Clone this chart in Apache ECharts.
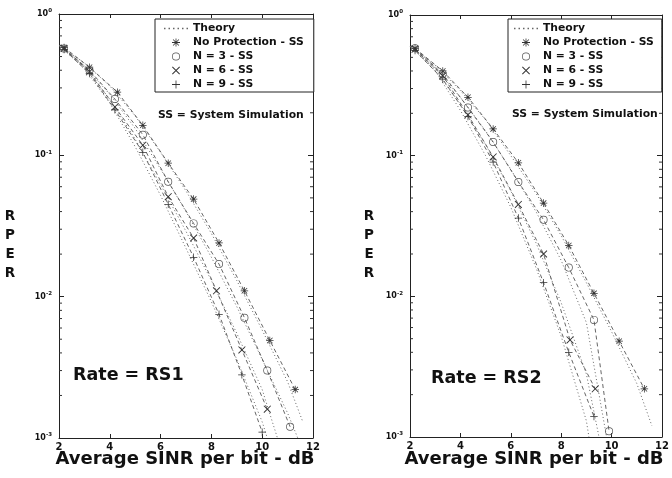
<!DOCTYPE html>
<html><head><meta charset="utf-8">
<script src="https://cdn.jsdelivr.net/npm/echarts@6/dist/echarts.min.js"></script>
<style>html,body{margin:0;padding:0;background:#fff}#c{width:672px;height:478px}</style>
</head><body><div id="c"></div>
<script>
// ---------- axes / ticks ----------
const xMin = 2, xMax = 12, xStep = 2;
const yMin = 0.001, yMax = 1;
const minorTicks = [0.002,0.003,0.004,0.005,0.006,0.007,0.008,0.009,
                    0.02,0.03,0.04,0.05,0.06,0.07,0.08,0.09,
                    0.2,0.3,0.4,0.5,0.6,0.7,0.8,0.9];
const seriesNames = ['Theory','No Protection - SS','N = 3 - SS','N = 6 - SS','N = 9 - SS'];

// ---------- Rate = RS1 (left panel) ----------
const rs1_thNP_x = [2,3,4,5,6,7,8,9,10,11,11.6];
const rs1_thNP_y = [0.6,0.45,0.31,0.19,0.105,0.056,0.028,0.013,0.0058,0.0025,0.0013];
const rs1_thN3_x = [2,3,4,5,6,7,8,9,10,11,11.4];
const rs1_thN3_y = [0.6,0.43,0.27,0.155,0.08,0.04,0.019,0.0085,0.0036,0.0015,0.001];
const rs1_thN6_x = [2,3,4,5,6,7,8,9,10,10.6];
const rs1_thN6_y = [0.6,0.42,0.25,0.13,0.062,0.029,0.013,0.0055,0.0022,0.001];
const rs1_thN9_x = [2,3,4,5,6,7,8,9,10,10.2];
const rs1_thN9_y = [0.6,0.41,0.235,0.115,0.052,0.022,0.0092,0.0036,0.0013,0.001];

const rs1_NP_x = [2.2,3.2,4.3,5.3,6.3,7.3,8.3,9.3,10.3,11.3];
const rs1_NP_y = [0.58,0.42,0.28,0.163,0.088,0.049,0.024,0.011,0.0049,0.0022];
const rs1_N3_x = [2.2,3.2,4.2,5.3,6.3,7.3,8.3,9.3,10.2,11.1];
const rs1_N3_y = [0.57,0.40,0.25,0.14,0.065,0.033,0.017,0.0071,0.003,0.0012];
const rs1_N6_x = [2.2,3.2,4.2,5.3,6.3,7.3,8.2,9.2,10.2];
const rs1_N6_y = [0.57,0.39,0.22,0.118,0.051,0.026,0.011,0.0042,0.0016];
const rs1_N9_x = [2.2,3.2,4.2,5.3,6.3,7.3,8.3,9.2,10.0];
const rs1_N9_y = [0.56,0.38,0.21,0.105,0.045,0.019,0.0075,0.0028,0.0011];

// ---------- Rate = RS2 (right panel) ----------
const rs2_thNP_x = [2,3,4,5,6,7,8,9,10,11,11.6];
const rs2_thNP_y = [0.6,0.44,0.29,0.18,0.1,0.054,0.027,0.0125,0.0056,0.0024,0.0012];
const rs2_thN3_x = [2,3,4,5,6,7,8,9,9.8];
const rs2_thN3_y = [0.6,0.42,0.26,0.15,0.08,0.04,0.018,0.0065,0.001];
const rs2_thN6_x = [2,3,4,5,6,7,8,9,9.5];
const rs2_thN6_y = [0.6,0.41,0.23,0.12,0.056,0.024,0.009,0.0028,0.001];
const rs2_thN9_x = [2,3,4,5,6,7,8,9,9.1];
const rs2_thN9_y = [0.6,0.4,0.21,0.1,0.043,0.016,0.0052,0.0013,0.001];

const rs2_NP_x = [2.2,3.3,4.3,5.3,6.3,7.3,8.3,9.3,10.3,11.3];
const rs2_NP_y = [0.58,0.40,0.26,0.155,0.089,0.046,0.023,0.0105,0.0048,0.0022];
const rs2_N3_x = [2.2,3.3,4.3,5.3,6.3,7.3,8.3,9.3,9.9];
const rs2_N3_y = [0.58,0.38,0.22,0.125,0.065,0.035,0.016,0.0068,0.0011];
const rs2_N6_x = [2.2,3.3,4.3,5.3,6.3,7.3,8.35,9.35];
const rs2_N6_y = [0.57,0.37,0.195,0.098,0.045,0.02,0.0049,0.0022];
const rs2_N9_x = [2.2,3.3,4.3,5.3,6.3,7.3,8.3,9.3];
const rs2_N9_y = [0.56,0.35,0.19,0.09,0.036,0.0125,0.004,0.0014];

// ---------- build ----------
const FONT = '"DejaVu Sans"';
const INK = '#111';
const STAR = 'path://M4.5,0h1v10h-1z M0,4.5h10v1h-10z M1,1.7l0.7,-0.7l7.3,7.3l-0.7,0.7z M8.3,1l0.7,0.7l-7.3,7.3l-0.7,-0.7z';
const CROSS = 'path://M1,1.7l0.7,-0.7l7.3,7.3l-0.7,0.7z M8.3,1l0.7,0.7l-7.3,7.3l-0.7,-0.7z';
const PLUS = 'path://M4.5,0h1v10h-1z M0,4.5h10v1h-10z';
const RING = 'path://M5,0a5,5 0 1,0 0.01,0z M5,0.9a4.1,4.1 0 1,1 -0.01,0z';
const DOTS = 'path://M0,0h1v1h-1z M3,0h1v1h-1z M6,0h1v1h-1z M9,0h1v1h-1z M12,0h1v1h-1z M15,0h1v1h-1z';
const symbols = [null, STAR, RING, CROSS, PLUS];

function pairs(xs, ys){ return xs.map((x,i)=>[x, ys[i]]); }

function theory(xs, ys, gi){
  return {type:'line', name:seriesNames[0], xAxisIndex:gi*2, yAxisIndex:gi*2, data:pairs(xs,ys),
    symbol:'none', silent:true, itemStyle:{color:'#666'}, lineStyle:{color:'#666', width:1, type:[1,2.5]}};
}
function sim(k, xs, ys, gi){
  return {type:'line', name:seriesNames[k], xAxisIndex:gi*2, yAxisIndex:gi*2, data:pairs(xs,ys),
    symbol:symbols[k], symbolSize: k===2 ? 8 : 7.5, silent:true,
    lineStyle:{color:'#555', width:0.9, type:[4,3]},
    itemStyle:{color: k===2 ? '#555' : '#333', borderWidth:0}};
}
function minorTickSeries(gi){
  return {type:'custom', xAxisIndex:gi*2, yAxisIndex:gi*2, silent:true, clip:false,
    data: minorTicks.map(v=>[xMin, v]),
    encode:{x:0, y:1},
    renderItem:(params, api)=>{
      const v = api.value(1);
      const pL = api.coord([xMin, v]);
      const pR = api.coord([xMax, v]);
      return {type:'group', children:[
        {type:'line', shape:{x1:pL[0], y1:pL[1], x2:pL[0]+3, y2:pL[1]}, style:{stroke:'#333', lineWidth:1}},
        {type:'line', shape:{x1:pR[0]-3, y1:pR[1], x2:pR[0], y2:pR[1]}, style:{stroke:'#333', lineWidth:1}}
      ]};
    }};
}

const axisLineStyle = {color:'#222', width:1};
function xAxes(gi){
  return [
    {gridIndex:gi, type:'value', position:'bottom', min:xMin, max:xMax, interval:xStep,
      axisLine:{onZero:false, lineStyle:axisLineStyle}, splitLine:{show:false},
      axisTick:{inside:true, length:4, lineStyle:axisLineStyle},
      axisLabel:{margin:4, fontFamily:FONT, fontWeight:'bold', fontSize:10, color:INK}},
    {gridIndex:gi, type:'value', position:'top', min:xMin, max:xMax, interval:xStep,
      axisLine:{onZero:false, lineStyle:axisLineStyle}, splitLine:{show:false},
      axisTick:{inside:true, length:4, lineStyle:axisLineStyle}, axisLabel:{show:false}}
  ];
}
function yAxes(gi){
  return [
    {gridIndex:gi, type:'log', logBase:10, position:'left', min:yMin, max:yMax,
      axisLine:{onZero:false, lineStyle:axisLineStyle}, splitLine:{show:false},
      axisTick:{inside:true, length:5, lineStyle:axisLineStyle},
      axisLabel:{margin:7, formatter:v=>'{b|10}{s|'+Math.round(Math.log10(v))+'}',
        rich:{b:{fontFamily:FONT, fontWeight:'bold', fontSize:8, color:INK, lineHeight:12},
              s:{fontFamily:FONT, fontWeight:'bold', fontSize:5.5, color:INK, lineHeight:6, verticalAlign:'top'}}}},
    {gridIndex:gi, type:'log', logBase:10, position:'right', min:yMin, max:yMax,
      axisLine:{onZero:false, lineStyle:axisLineStyle}, splitLine:{show:false},
      axisTick:{inside:true, length:5, lineStyle:axisLineStyle}, axisLabel:{show:false}}
  ];
}
function legendFor(left, pad){
  return {orient:'vertical', left:left, top:19, padding:pad, itemWidth:24, itemHeight:8, itemGap:3,
    borderColor:'#222', borderWidth:1, backgroundColor:'#fff', selectedMode:false,
    textStyle:{fontFamily:FONT, fontWeight:'bold', fontSize:10.8, color:INK, lineHeight:11},
    data:[{name:seriesNames[0], icon:DOTS, itemStyle:{color:'#666'}},
          {name:seriesNames[1], icon:STAR},
          {name:seriesNames[2], icon:RING},
          {name:seriesNames[3], icon:CROSS},
          {name:seriesNames[4], icon:PLUS}]};
}
function txt(text, x, y, size, align){
  return {type:'text', x:x, y:y, silent:true, style:{text:text, fill:INK,
    font:'bold '+size+'px "DejaVu Sans"', align:align||'center', verticalAlign:'middle', lineHeight:19}};
}

const option = {
  animation:false,
  backgroundColor:'#fff',
  grid:[{left:59, top:14, width:254, height:424}, {left:410, top:15, width:252, height:422}],
  xAxis:[...xAxes(0), ...xAxes(1)],
  yAxis:[...yAxes(0), ...yAxes(1)],
  legend:[legendFor(155,[4,10,2,9]), legendFor(508,[4,8,2,6])],
  series:[
    theory(rs1_thNP_x, rs1_thNP_y, 0), theory(rs1_thN3_x, rs1_thN3_y, 0),
    theory(rs1_thN6_x, rs1_thN6_y, 0), theory(rs1_thN9_x, rs1_thN9_y, 0),
    sim(1, rs1_NP_x, rs1_NP_y, 0), sim(2, rs1_N3_x, rs1_N3_y, 0),
    sim(3, rs1_N6_x, rs1_N6_y, 0), sim(4, rs1_N9_x, rs1_N9_y, 0),
    minorTickSeries(0),
    theory(rs2_thNP_x, rs2_thNP_y, 1), theory(rs2_thN3_x, rs2_thN3_y, 1),
    theory(rs2_thN6_x, rs2_thN6_y, 1), theory(rs2_thN9_x, rs2_thN9_y, 1),
    sim(1, rs2_NP_x, rs2_NP_y, 1), sim(2, rs2_N3_x, rs2_N3_y, 1),
    sim(3, rs2_N6_x, rs2_N6_y, 1), sim(4, rs2_N9_x, rs2_N9_y, 1),
    minorTickSeries(1)
  ],
  graphic:[
    txt('R\nP\nE\nR', 10, 245, 13.5),
    txt('R\nP\nE\nR', 369, 245, 13.5),
    txt('Rate = RS1', 73, 375, 17.5, 'left'),
    txt('Rate = RS2', 431, 378, 17.5, 'left'),
    txt('Average SINR per bit - dB', 185, 459, 18),
    txt('Average SINR per bit - dB', 534, 459, 18),
    txt('SS = System Simulation', 158, 115, 10.8, 'left'),
    txt('SS = System Simulation', 512, 114, 10.8, 'left')
  ]
};
const chart = echarts.init(document.getElementById('c'), null, {renderer:'canvas'});
chart.setOption(option);
</script>
</body></html>
